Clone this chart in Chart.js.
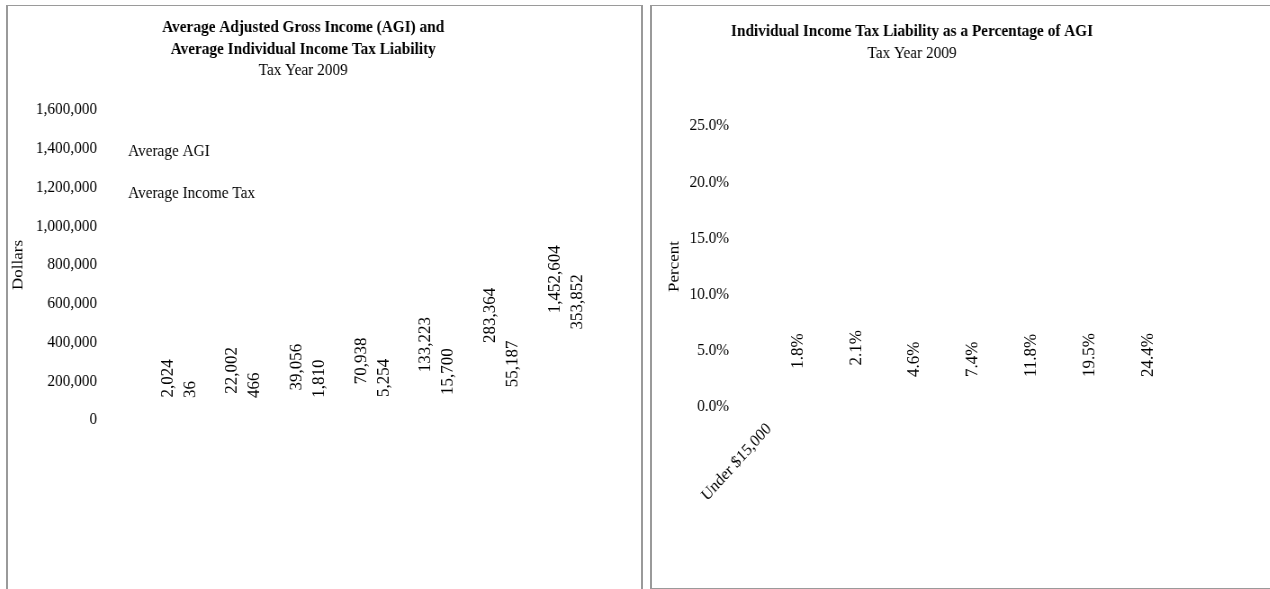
<!DOCTYPE html>
<html><head><meta charset="utf-8">
<script src="https://cdn.jsdelivr.net/npm/chart.js@4/dist/chart.umd.min.js"></script>
<style>
html,body{margin:0;padding:0;background:#fff;width:1270px;height:589px;overflow:hidden;}
.box{position:absolute;box-sizing:border-box;border:0 solid #9a9a9a;}
#boxL{left:6px;top:5px;width:637px;height:600px;border-width:1px 2px 0 2px;}
#boxR{left:650px;top:5px;width:700px;height:584px;border-width:1px 0 1px 2px;}
.wrap{position:absolute;transform-origin:0 0;transform:scaleX(0.9);}
#wL{left:8px;top:7px;width:656px;height:582px;}
#wR{left:647px;top:7px;width:589px;height:580px;}
</style></head><body>
<div class="box" id="boxL"></div><div class="box" id="boxR"></div>
<div class="wrap" id="wL"><canvas id="cL"></canvas></div>
<div class="wrap" id="wR"><canvas id="cR"></canvas></div>
<script>
// ---- data ----
const categories = ['Under $15,000', '$15,000 under $30,000', '$30,000 under $50,000', '$50,000 under $100,000', '$100,000 under $200,000', '$200,000 under $500,000', '$500,000 or more'];
const avgAGI = [2024, 22002, 39056, 70938, 133223, 283364, 1452604];
const avgTax = [36, 466, 1810, 5254, 15700, 55187, 353852];
const taxPct = [1.8, 2.1, 4.6, 7.4, 11.8, 19.5, 24.4];
const seriesNames = ['Average AGI', 'Average Income Tax'];
const leftTitle = ['Average Adjusted Gross Income (AGI) and', 'Average Individual Income Tax Liability'];
const rightTitle = 'Individual Income Tax Liability as a Percentage of AGI';
const subTitle = 'Tax Year 2009';

const FS = 17;
const SQUASH = 0.9; // horizontal squash applied to the canvases in CSS
Chart.defaults.font.family = '"Liberation Serif", "Times New Roman", serif';
Chart.defaults.font.size = FS;
Chart.defaults.color = '#000';

const FONT = FS + 'px "Liberation Serif", "Times New Roman", serif';
const fmtNum = v => v.toLocaleString('en-US');
const fmtPct = v => v.toFixed(1) + '%';

const valueLabels = {
  id: 'valueLabels',
  afterDatasetsDraw(chart, args, opts) {
    const ctx = chart.ctx, area = chart.chartArea;
    ctx.save();
    ctx.font = FONT; ctx.fillStyle = '#000';
    ctx.textAlign = 'left'; ctx.textBaseline = 'middle';
    chart.data.datasets.forEach((ds, di) => {
      const meta = chart.getDatasetMeta(di);
      meta.data.forEach((bar, i) => {
        const text = opts.kind === 'pct' ? fmtPct(ds.data[i]) : fmtNum(ds.data[i]);
        const w = ctx.measureText(text).width;
        const h = bar.base - bar.y;
        let start;
        if (opts.mode === 'insideBase' && h > w) {
          start = bar.base - opts.baseGap;
        } else {
          start = bar.y - opts.gap;
          if (start - w < area.top) start = (bar.y + bar.base) / 2 + w / 2;
        }
        ctx.save();
        ctx.translate(bar.x, start);
        ctx.scale(1 / SQUASH, 1);
        ctx.rotate(-Math.PI / 2);
        ctx.fillText(text, 0, 0);
        ctx.restore();
      });
    });
    ctx.restore();
  }
};

const sideLegend = {
  id: 'sideLegend',
  afterDraw(chart, args, opts) {
    if (!opts.show) return;
    const ctx = chart.ctx, area = chart.chartArea;
    ctx.save();
    ctx.font = FONT; ctx.fillStyle = '#000';
    ctx.textAlign = 'left'; ctx.textBaseline = 'middle';
    chart.data.datasets.forEach((ds, i) => {
      ctx.fillText(ds.label, area.left + opts.dx, area.top + opts.dy + i * opts.step);
    });
    ctx.restore();
  }
};

const clear = 'rgba(0,0,0,0)';

new Chart(document.getElementById('cL'), {
  type: 'bar',
  data: {
    labels: categories,
    datasets: [
      { label: seriesNames[0], data: avgAGI, backgroundColor: clear, borderWidth: 0 },
      { label: seriesNames[1], data: avgTax, backgroundColor: clear, borderWidth: 0 }
    ]
  },
  options: {
    responsive: true, maintainAspectRatio: false, animation: false,
    categoryPercentage: 0.7, barPercentage: 0.9,
    layout: { padding: 0 },
    plugins: {
      legend: { display: false }, tooltip: { enabled: false },
      title: { display: true, text: leftTitle, color: '#000',
        font: { size: FS, weight: 'bold', lineHeight: '21.5px' }, padding: { top: 10, bottom: 0 } },
      subtitle: { display: true, text: subTitle, color: '#000',
        font: { size: FS, weight: 'normal', lineHeight: '21.5px' }, padding: { top: 0, bottom: 28.5 } },
      valueLabels: { kind: 'num', mode: 'outsideEnd', gap: 22, baseGap: 22 },
      sideLegend: { show: true, dx: -21, dy: 42, step: 42 }
    },
    scales: {
      x: {
        ticks: { display: false },
        grid: { display: false, drawTicks: false },
        border: { display: false },
        afterFit: s => { s.height = 169; }
      },
      y: {
        min: 0, max: 1600000,
        ticks: { stepSize: 200000, padding: 55.5, color: '#000', font: { size: FS } },
        grid: { display: false, drawTicks: false },
        border: { display: false },
        title: { display: true, text: 'Dollars', color: '#000', font: { size: FS }, padding: { top: 1, bottom: 0 } },
        afterFit: s => { s.width = 154.4; }
      }
    }
  },
  plugins: [valueLabels, sideLegend]
});

new Chart(document.getElementById('cR'), {
  type: 'bar',
  data: {
    labels: categories,
    datasets: [
      { label: 'Percent', data: taxPct, backgroundColor: clear, borderWidth: 0 }
    ]
  },
  options: {
    responsive: true, maintainAspectRatio: false, animation: false,
    layout: { padding: 0 },
    plugins: {
      legend: { display: false }, tooltip: { enabled: false },
      title: { display: true, text: rightTitle, color: '#000',
        font: { size: FS, weight: 'bold', lineHeight: '21.5px' }, padding: { top: 14, bottom: 0 } },
      subtitle: { display: true, text: subTitle, color: '#000',
        font: { size: FS, weight: 'normal', lineHeight: '21.5px' }, padding: { top: 0, bottom: 62 } },
      valueLabels: { kind: 'pct', mode: 'insideBase', gap: 18, baseGap: 30 },
      sideLegend: { show: false }
    },
    scales: {
      x: {
        ticks: {
          autoSkip: false, minRotation: 45, maxRotation: 45, padding: 12, labelOffset: -32.4,
          color: '#000', font: { size: FS },
          callback: function (value, index) { return index === 0 ? this.getLabelForValue(value) : ''; }
        },
        grid: { display: false, drawTicks: false },
        border: { display: false },
        afterFit: s => { s.height = 180; }
      },
      y: {
        min: 0, max: 25,
        ticks: { stepSize: 5, padding: 44.4, color: '#000', font: { size: FS }, callback: v => fmtPct(v) },
        grid: { display: false, drawTicks: false },
        border: { display: false },
        title: { display: true, text: 'Percent', color: '#000', font: { size: FS }, padding: { top: 20, bottom: 0 } },
        afterFit: s => { s.width = 135.6; }
      }
    }
  },
  plugins: [valueLabels, sideLegend]
});
</script>
</body></html>
